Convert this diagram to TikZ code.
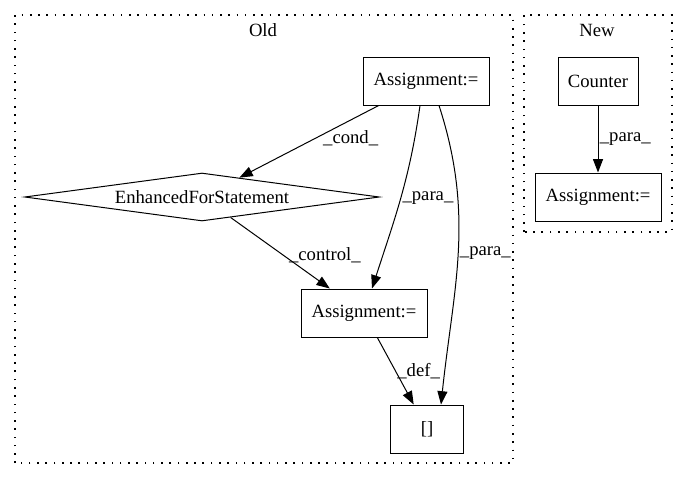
\documentclass[tikz,border=0pt]{standalone}
\usepackage{fontspec}
\setmainfont{Liberation Serif}
\usetikzlibrary{shapes.geometric,arrows.meta}

\begin{document}
\begin{tikzpicture}[x=0.75pt,y=0.75pt,
        txt/.style={font=\fontsize{14}{16}\selectfont},
        box/.style={txt,draw,line width=0.75pt,minimum width=94.5pt,minimum height=36pt,inner sep=2pt},
        loopbox/.style={txt,draw,diamond,line width=0.75pt,aspect=7.4,inner sep=0pt,minimum width=266pt,minimum height=36pt},
        lbl/.style={txt,inner sep=1pt,anchor=west},
        flow/.style={line width=0.75pt,-{Triangle[length=10pt,width=7.5pt]}},
        cluster/.style={line width=0.9pt,dash pattern=on 1.2pt off 5pt}]
        \useasboundingbox (0,0) rectangle (684,480);
        % clusters
        \draw [cluster] (15,17) rectangle (513,465);
        \draw [cluster] (524,248) rectangle (672,465);
        \node [txt] (oldtitle) at (263,450) {Old};
        \node [txt] (newtitle) at (597,450) {New};

        % old version
        \node [box] (asgtop) at (426,399) {Assignment:=};
        \node [loopbox] (efs) at (202,283) {EnhancedForStatement};
        \node [box] (asgmid) at (364,167) {Assignment:=};
        \node [box,minimum width=55pt] (idx) at (427,51) {[]};

        \draw [flow] (asgtop) -- node[lbl,pos=0.45,xshift=4pt]{\_cond\_} (efs);
        \draw [flow] ([xshift=-4.5pt]asgtop.south) to[out=262,in=72] node[lbl,pos=0.5]{\_para\_} ([xshift=6pt]asgmid.north);
        \draw [flow] ([xshift=9.75pt]asgtop.south) to[out=-72,in=84] node[lbl,pos=0.5]{\_para\_} ([xshift=10.5pt]idx.north);
        \draw [flow] (efs) -- node[lbl,pos=0.53,xshift=3pt]{\_control\_} (asgmid);
        \draw [flow] (asgmid) -- node[lbl,pos=0.5]{\_def\_} (idx);

        % new version
        \node [box,minimum width=60pt] (cnt) at (598,399) {Counter};
        \node [box] (asgnew) at (598,283) {Assignment:=};
        \draw [flow] (cnt) -- node[lbl,pos=0.5]{\_para\_} (asgnew);
\end{tikzpicture}
\end{document}
